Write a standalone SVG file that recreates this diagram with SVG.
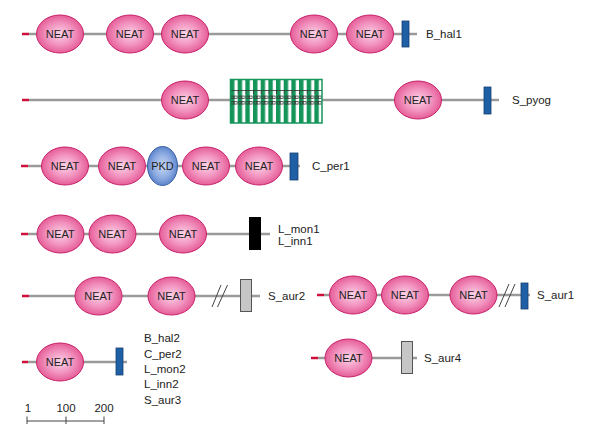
<svg xmlns="http://www.w3.org/2000/svg" width="600" height="436" viewBox="0 0 600 436">
<style>
.bb{stroke:#9a9a9a;stroke-width:2.5;fill:none}
.nt{stroke:#d0103a;stroke-width:2.5}
.neat{fill:url(#gp);stroke:#c8206a;stroke-width:1}
.pkd{fill:url(#gb);stroke:#3a62a8;stroke-width:1}
.blue{fill:#1f5fa6;stroke:#153f72;stroke-width:0.8}
.grey{fill:#c6c6c6;stroke:#555;stroke-width:1}
.blk{fill:#000}
.t{font-family:"Liberation Sans",Arial,sans-serif;font-size:11px;fill:#222}
.l{font-size:11.5px}
.c{text-anchor:middle}
.sl{stroke:#444;stroke-width:1}
.sc{stroke:#444;stroke-width:1;fill:none}
</style>
<defs>
<radialGradient id="gp" cx="0.5" cy="0.5" r="0.55">
<stop offset="0" stop-color="#fcd3e6"/>
<stop offset="0.55" stop-color="#f190bd"/>
<stop offset="1" stop-color="#e2508d"/>
</radialGradient>
<radialGradient id="gb" cx="0.5" cy="0.5" r="0.55">
<stop offset="0" stop-color="#c8d9f4"/>
<stop offset="0.6" stop-color="#8aa9e0"/>
<stop offset="1" stop-color="#4f78c4"/>
</radialGradient>
<pattern id="stripes" patternUnits="userSpaceOnUse" x="230" y="79" width="7.67" height="44">
<rect x="0" y="0" width="4.6" height="44" fill="#14955a"/>
<rect x="4.6" y="0" width="3.07" height="44" fill="#ffffff"/>
<path d="M0 11.5 H7.67 M0.5 11.5 V15" stroke="#333" stroke-width="0.8" fill="none"/>
<rect x="1" y="17" width="2.6" height="2.6" fill="none" stroke="#333" stroke-width="0.7"/>
<rect x="4.2" y="17" width="2.6" height="2.6" fill="none" stroke="#333" stroke-width="0.7"/>
<rect x="1" y="22.5" width="2.6" height="2.6" fill="none" stroke="#333" stroke-width="0.7"/>
<rect x="4.2" y="22.5" width="2.6" height="2.6" fill="none" stroke="#333" stroke-width="0.7"/>
</pattern>
</defs>

<g id="connectors">
<line class="bb" x1="29" y1="34" x2="417" y2="34"/>
<line class="bb" x1="29" y1="100" x2="499" y2="100"/>
<line class="bb" x1="28" y1="166" x2="300" y2="166"/>
<line class="bb" x1="28" y1="234" x2="270" y2="234"/>
<line class="bb" x1="29" y1="296" x2="260" y2="296"/>
<line class="bb" x1="324" y1="295" x2="530" y2="295"/>
<line class="bb" x1="28" y1="362" x2="127" y2="362"/>
<line class="bb" x1="318" y1="358" x2="417" y2="358"/>
</g>

<g id="nterm">
<line class="nt" x1="22" y1="34" x2="29" y2="34"/>
<line class="nt" x1="22" y1="100" x2="29" y2="100"/>
<line class="nt" x1="21" y1="166" x2="28" y2="166"/>
<line class="nt" x1="21" y1="234" x2="28" y2="234"/>
<line class="nt" x1="22" y1="296" x2="29" y2="296"/>
<line class="nt" x1="317" y1="295" x2="324" y2="295"/>
<line class="nt" x1="22" y1="362" x2="28" y2="362"/>
<line class="nt" x1="311" y1="358" x2="318" y2="358"/>
</g>

<g id="B_hal1">
<ellipse class="neat" cx="60" cy="34" rx="23.5" ry="19"/><text class="t c" x="60" y="38">NEAT</text>
<ellipse class="neat" cx="130" cy="34" rx="23.5" ry="19"/><text class="t c" x="130" y="38">NEAT</text>
<ellipse class="neat" cx="185" cy="34" rx="23.5" ry="19"/><text class="t c" x="185" y="38">NEAT</text>
<ellipse class="neat" cx="314" cy="34" rx="23.5" ry="19"/><text class="t c" x="314" y="38">NEAT</text>
<ellipse class="neat" cx="370" cy="34" rx="23.5" ry="19"/><text class="t c" x="370" y="38">NEAT</text>
<rect class="blue" x="402" y="21" width="7" height="26"/>
<text class="t l" x="426" y="38">B_hal1</text>
</g>

<g id="S_pyog">
<ellipse class="neat" cx="185" cy="100" rx="23.5" ry="19"/><text class="t c" x="185" y="104">NEAT</text>
<rect x="230.5" y="79.5" width="91.5" height="43.5" fill="url(#stripes)" stroke="#14955a" stroke-width="1.5"/>
<ellipse class="neat" cx="418" cy="100" rx="23.5" ry="19"/><text class="t c" x="418" y="104">NEAT</text>
<rect class="blue" x="484" y="87" width="7" height="27"/>
<text class="t l" x="512" y="104">S_pyog</text>
</g>

<g id="C_per1">
<ellipse class="neat" cx="65" cy="166" rx="23.5" ry="19"/><text class="t c" x="65" y="170">NEAT</text>
<ellipse class="neat" cx="122" cy="166" rx="23.5" ry="19"/><text class="t c" x="122" y="170">NEAT</text>
<ellipse class="pkd" cx="162.5" cy="166" rx="15" ry="19.5"/><text class="t c" x="162.5" y="170">PKD</text>
<ellipse class="neat" cx="206" cy="166" rx="23.5" ry="19"/><text class="t c" x="206" y="170">NEAT</text>
<ellipse class="neat" cx="259" cy="166" rx="23.5" ry="19"/><text class="t c" x="259" y="170">NEAT</text>
<rect class="blue" x="290" y="153" width="8" height="27"/>
<text class="t l" x="312" y="170">C_per1</text>
</g>

<g id="L_mon1">
<ellipse class="neat" cx="60.5" cy="234" rx="23.5" ry="19"/><text class="t c" x="60.5" y="238">NEAT</text>
<ellipse class="neat" cx="112.5" cy="234" rx="23.5" ry="19"/><text class="t c" x="112.5" y="238">NEAT</text>
<ellipse class="neat" cx="183" cy="234" rx="23.5" ry="19"/><text class="t c" x="183" y="238">NEAT</text>
<rect class="blk" x="249" y="217" width="12" height="33"/>
<text class="t l" x="278" y="233">L_mon1</text>
<text class="t l" x="278" y="245">L_inn1</text>
</g>

<g id="S_aur2">
<ellipse class="neat" cx="98.5" cy="296" rx="23.5" ry="19"/><text class="t c" x="98.5" y="300">NEAT</text>
<ellipse class="neat" cx="171.5" cy="296" rx="23.5" ry="19"/><text class="t c" x="171.5" y="300">NEAT</text>
<line class="sl" x1="212" y1="307" x2="221" y2="285"/>
<line class="sl" x1="217.5" y1="307" x2="227.5" y2="285"/>
<rect class="grey" x="240.5" y="279.5" width="11" height="32"/>
<text class="t l" x="268" y="300">S_aur2</text>
</g>

<g id="S_aur1">
<ellipse class="neat" cx="353" cy="295" rx="23.5" ry="19"/><text class="t c" x="353" y="299">NEAT</text>
<ellipse class="neat" cx="405" cy="295" rx="23.5" ry="19"/><text class="t c" x="405" y="299">NEAT</text>
<ellipse class="neat" cx="473.5" cy="295" rx="23.5" ry="19"/><text class="t c" x="473.5" y="299">NEAT</text>
<line class="sl" x1="499" y1="307" x2="509" y2="284"/>
<line class="sl" x1="505" y1="307" x2="515" y2="284"/>
<rect class="blue" x="521" y="283" width="7" height="26"/>
<text class="t l" x="537" y="299">S_aur1</text>
</g>

<g id="B_hal2">
<ellipse class="neat" cx="60" cy="362" rx="23.5" ry="19"/><text class="t c" x="60" y="366">NEAT</text>
<rect class="blue" x="116" y="348" width="7" height="27"/>
<text class="t l" x="144" y="342">B_hal2</text>
<text class="t l" x="144" y="357.5">C_per2</text>
<text class="t l" x="144" y="373">L_mon2</text>
<text class="t l" x="144" y="388">L_inn2</text>
<text class="t l" x="144" y="403.5">S_aur3</text>
</g>

<g id="S_aur4">
<ellipse class="neat" cx="348.5" cy="358" rx="23.5" ry="19"/><text class="t c" x="348.5" y="362">NEAT</text>
<rect class="grey" x="401.5" y="341.5" width="11" height="32"/>
<text class="t l" x="424" y="362">S_aur4</text>
</g>

<g id="scale">
<path class="sc" d="M27 421 H104 M27 416.5 V424 M66 416.5 V424 M104 416.5 V424"/>
<text class="t l c" x="28" y="412">1</text>
<text class="t l c" x="66" y="412">100</text>
<text class="t l c" x="104" y="412">200</text>
</g>
</svg>
